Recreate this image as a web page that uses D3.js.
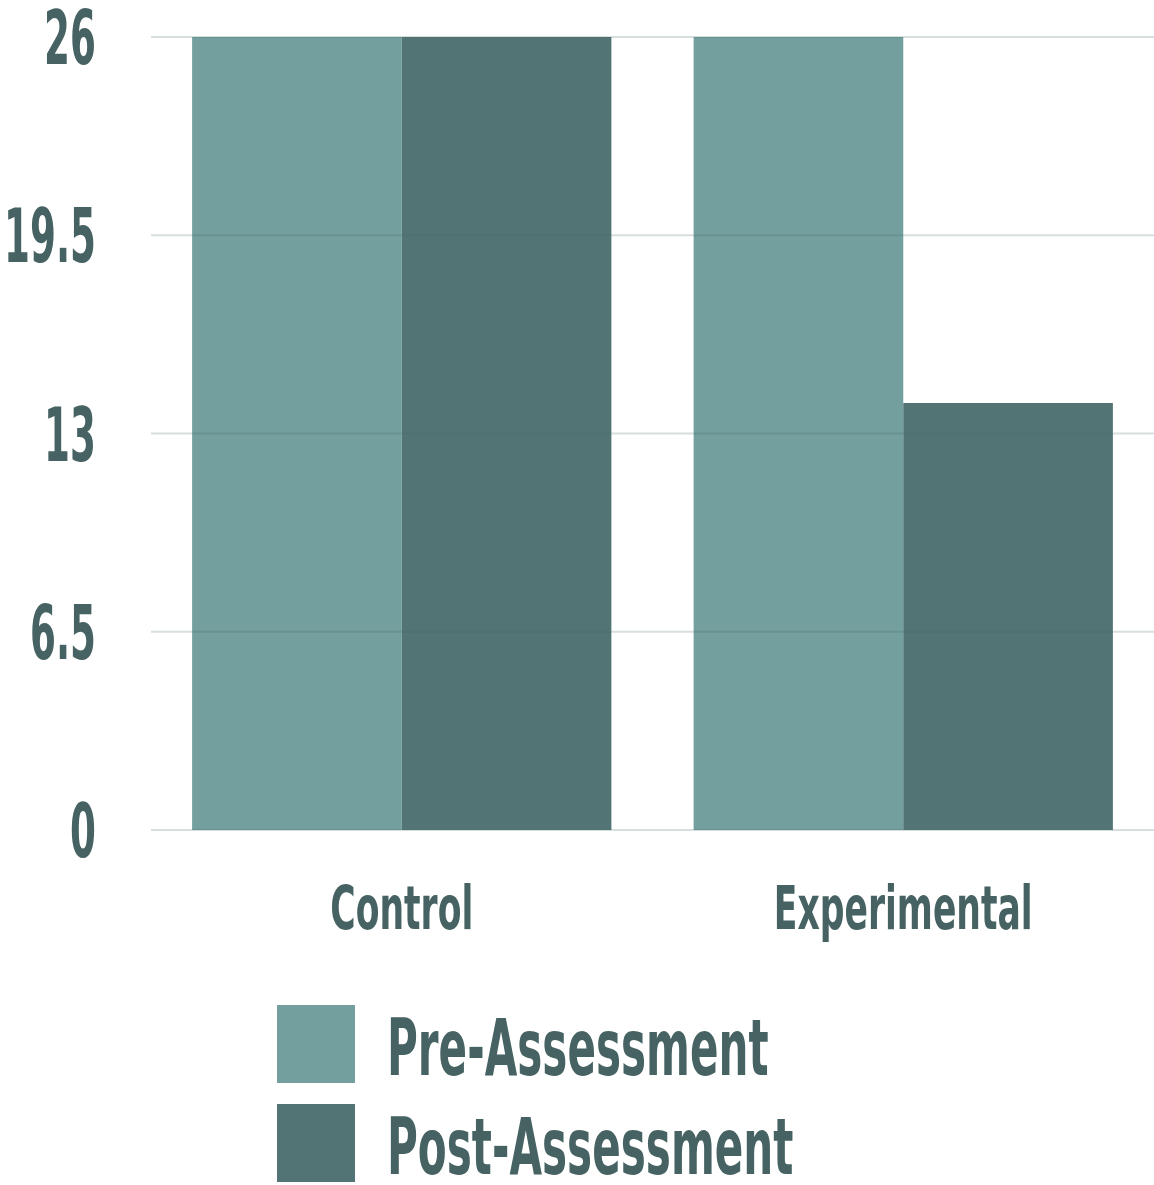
<!DOCTYPE html>
<html>
<head>
<meta charset="utf-8">
<script src="https://cdn.jsdelivr.net/npm/d3@7"></script>
<style>
  body { margin: 0; background: #fff; }
  text { font-family: "DejaVu Sans Condensed", "DejaVu Sans", sans-serif; font-weight: bold; fill: #466262; }
</style>
</head>
<body>
<div id="chart-area"></div>
<script>

// Data
var groups = ["Control", "Experimental"];
var seriesNames = ["Pre-Assessment", "Post-Assessment"];
var preValues = [26, 26];
var postValues = [26, 14];
var tickValues = [0, 6.5, 13, 19.5, 26];
var colors = ["#739f9f", "#527474"];

// SVG drawing area
var margin = {top: 37, right: 0, bottom: 355, left: 151};

var width = 1154 - margin.left - margin.right,
    height = 1185 - margin.top - margin.bottom;

var svg = d3.select("#chart-area").append("svg")
    .attr("width", width + margin.left + margin.right)
    .attr("height", height + margin.top + margin.bottom)
    .append("g")
    .attr("transform", `translate(${margin.left}, ${margin.top})`);

var data = groups.map((g, i) => ({group: g, values: [preValues[i], postValues[i]]}));

// Scales
var x = d3.scaleBand()
    .domain(groups)
    .range([0, width])
    .paddingInner(0.164)
    .paddingOuter(0.082);

var x1 = d3.scaleBand()
    .domain(d3.range(seriesNames.length))
    .range([0, x.bandwidth()]);

var y = d3.scaleLinear()
    .domain([0, 26])
    .range([height, 0]);

// shrink text horizontally to look like the condensed face
function squeeze(sel, k) {
    sel.each(function() {
        var len = this.getComputedTextLength();
        d3.select(this).attr("textLength", len * k).attr("lengthAdjust", "spacingAndGlyphs");
    });
}

// Bars
svg.selectAll(".group")
    .data(data)
    .join("g")
    .attr("class", "group")
    .attr("transform", d => `translate(${x(d.group)},0)`)
    .selectAll("rect")
    .data(d => d.values)
    .join("rect")
    .attr("x", (d, i) => x1(i))
    .attr("y", d => y(d))
    .attr("width", x1.bandwidth())
    .attr("height", d => height - y(d))
    .attr("fill", (d, i) => colors[i]);

// Grid lines (drawn over the bars, faintly)
svg.append("g")
    .attr("class", "grid")
    .selectAll("line")
    .data(tickValues)
    .join("line")
    .attr("x1", 0)
    .attr("x2", width)
    .attr("y1", d => y(d))
    .attr("y2", d => y(d))
    .attr("stroke", "#4a6868")
    .attr("stroke-opacity", 0.22)
    .attr("stroke-width", 2);

// Y axis labels
var yAxis = d3.axisLeft(y)
    .tickValues(tickValues)
    .tickSize(0)
    .tickPadding(55)
    .tickFormat(d => d);

var yg = svg.append("g")
    .attr("class", "y-axis")
    .call(yAxis);
yg.select(".domain").remove();
yg.selectAll("text")
    .style("font-size", "74px")
    .attr("dy", "0.36em");
squeeze(yg.selectAll("text"), 0.56);

// X axis labels
var xAxis = d3.axisBottom(x).tickSize(0).tickPadding(56);
var xg = svg.append("g")
    .attr("class", "x-axis")
    .attr("transform", `translate(0, ${height})`)
    .call(xAxis);
xg.select(".domain").remove();
xg.selectAll("text")
    .style("font-size", "61px")
    .attr("dy", "0.71em");
squeeze(xg.selectAll("text"), 0.63);

// Legend
var legend = svg.append("g")
    .attr("class", "legend")
    .attr("transform", `translate(${277 - margin.left}, ${1005 - margin.top})`);

var items = legend.selectAll("g")
    .data(seriesNames)
    .join("g")
    .attr("transform", (d, i) => `translate(0, ${i * 99})`);

items.append("rect")
    .attr("width", 78)
    .attr("height", 78)
    .attr("fill", (d, i) => colors[i]);

var ltext = items.append("text")
    .attr("x", 110)
    .attr("y", 70)
    .style("font-size", "78px")
    .text(d => d);
squeeze(ltext, 0.6);

</script>
</body>
</html>
